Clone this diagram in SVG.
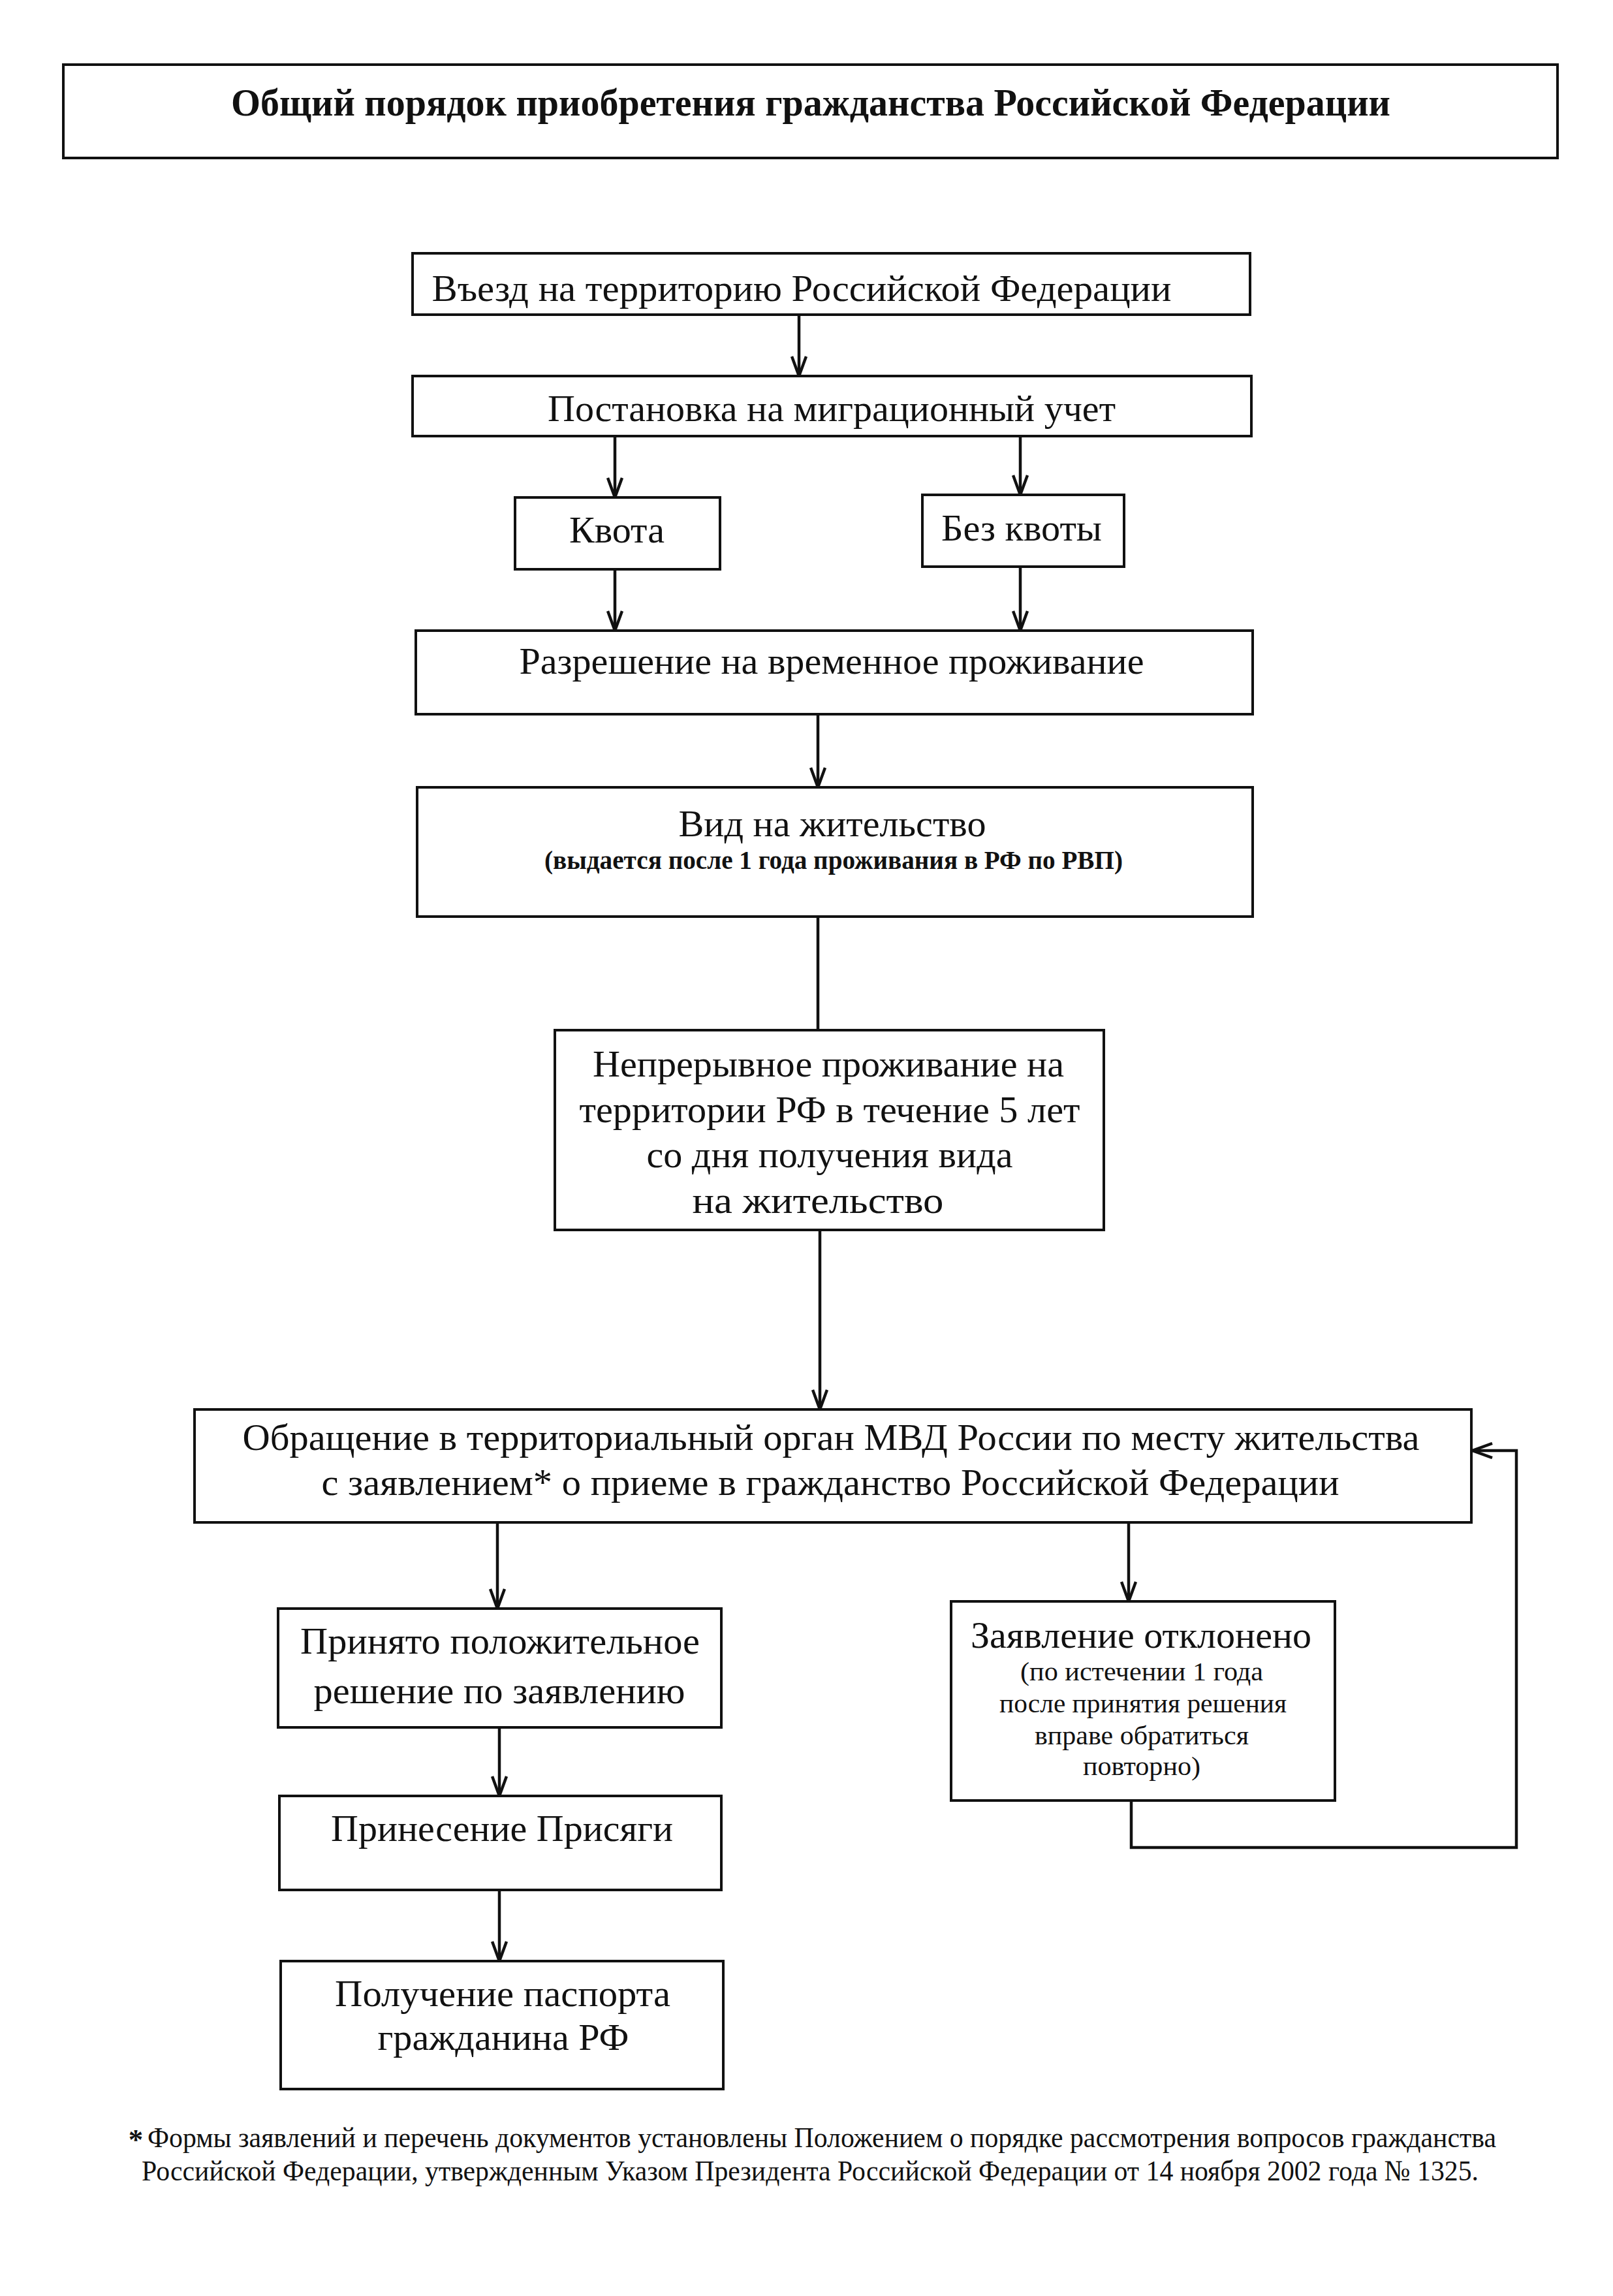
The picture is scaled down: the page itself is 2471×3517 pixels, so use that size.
<svg xmlns="http://www.w3.org/2000/svg" width="2471" height="3517" viewBox="0 0 2471 3517">
<style>
.box{fill:#fff;stroke:#111;stroke-width:4}
.t{font-family:"Liberation Serif","Times New Roman",serif;fill:#111;text-anchor:middle}
.m{font-size:58px}
.b{font-weight:bold}
.s{font-size:40px}
.f{font-size:45px}
.c{fill:none;stroke:#111;stroke-width:4.5}
</style>
<defs>
<marker id="ah" markerUnits="userSpaceOnUse" viewBox="0 0 34 26" refX="32" refY="13" markerWidth="34" markerHeight="26" orient="auto">
<path d="M2,2 L32,13 L2,24" fill="none" stroke="#111" stroke-width="4.5"/>
</marker>
</defs>
<rect width="2471" height="3517" fill="#fff"/>
<g id="title">
<rect class="box" x="97" y="99" width="2289" height="143"/>
<text class="t b" x="1242" y="177" font-size="60" textLength="1776" lengthAdjust="spacingAndGlyphs">Общий порядок приобретения гражданства Российской Федерации</text>
</g>
<g id="n1">
<rect class="box" x="632" y="388" width="1283" height="94"/>
<text class="t m" x="1228" y="461" textLength="1133" lengthAdjust="spacingAndGlyphs">Въезд на территорию Российской Федерации</text>
</g>
<g id="n2">
<rect class="box" x="632" y="576" width="1285" height="92"/>
<text class="t m" x="1274" y="645" textLength="870" lengthAdjust="spacingAndGlyphs">Постановка на миграционный учет</text>
</g>
<g id="n3">
<rect class="box" x="789" y="762" width="314" height="110"/>
<text class="t m" x="945" y="831" textLength="146" lengthAdjust="spacingAndGlyphs">Квота</text>
</g>
<g id="n4">
<rect class="box" x="1413" y="758" width="309" height="110"/>
<text class="t m" x="1565" y="828" textLength="246" lengthAdjust="spacingAndGlyphs">Без квоты</text>
</g>
<g id="n5">
<rect class="box" x="637" y="966" width="1282" height="128"/>
<text class="t m" x="1274" y="1032" textLength="957" lengthAdjust="spacingAndGlyphs">Разрешение на временное проживание</text>
</g>
<g id="n6">
<rect class="box" x="639" y="1206" width="1280" height="198"/>
<text class="t m" x="1275" y="1281" textLength="471" lengthAdjust="spacingAndGlyphs">Вид на жительство</text>
<text class="t s b" x="1277" y="1331" textLength="886" lengthAdjust="spacingAndGlyphs">(выдается после 1 года проживания в РФ по РВП)</text>
</g>
<g id="n7">
<rect class="box" x="850" y="1578" width="841" height="306"/>
<text class="t m" x="1269" y="1649" textLength="722" lengthAdjust="spacingAndGlyphs">Непрерывное проживание на</text>
<text class="t m" x="1271" y="1719" textLength="767" lengthAdjust="spacingAndGlyphs">территории РФ в течение 5 лет</text>
<text class="t m" x="1271" y="1788" textLength="561" lengthAdjust="spacingAndGlyphs">со дня получения вида</text>
<text class="t m" x="1253" y="1858" textLength="385" lengthAdjust="spacingAndGlyphs">на жительство</text>
</g>
<g id="n8">
<rect class="box" x="298" y="2159" width="1956" height="173"/>
<text class="t m" x="1273" y="2221" textLength="1803" lengthAdjust="spacingAndGlyphs">Обращение в территориальный орган МВД России по месту жительства</text>
<text class="t m" x="1272" y="2290" textLength="1559" lengthAdjust="spacingAndGlyphs">с заявлением* о приеме в гражданство Российской Федерации</text>
</g>
<g id="n9">
<rect class="box" x="426" y="2464" width="679" height="182"/>
<text class="t m" x="766" y="2533" textLength="612" lengthAdjust="spacingAndGlyphs">Принято положительное</text>
<text class="t m" x="765" y="2609" textLength="569" lengthAdjust="spacingAndGlyphs">решение по заявлению</text>
</g>
<g id="n10">
<rect class="box" x="1457" y="2453" width="588" height="305"/>
<text class="t m" x="1748" y="2524" textLength="522" lengthAdjust="spacingAndGlyphs">Заявление отклонено</text>
<text class="t s" x="1749" y="2574" textLength="372" lengthAdjust="spacingAndGlyphs">(по истечении 1 года</text>
<text class="t s" x="1751" y="2623" textLength="440" lengthAdjust="spacingAndGlyphs">после принятия решения</text>
<text class="t s" x="1749" y="2672" textLength="328" lengthAdjust="spacingAndGlyphs">вправе обратиться</text>
<text class="t s" x="1749" y="2719" textLength="180" lengthAdjust="spacingAndGlyphs">повторно)</text>
</g>
<g id="n11">
<rect class="box" x="428" y="2751" width="677" height="144"/>
<text class="t m" x="769" y="2820" textLength="524" lengthAdjust="spacingAndGlyphs">Принесение Присяги</text>
</g>
<g id="n12">
<rect class="box" x="430" y="3004" width="678" height="196"/>
<text class="t m" x="770" y="3073" textLength="514" lengthAdjust="spacingAndGlyphs">Получение паспорта</text>
<text class="t m" x="771" y="3140" textLength="385" lengthAdjust="spacingAndGlyphs">гражданина РФ</text>
</g>
<g id="footnote">
<text class="t f b" x="208" y="3292">*</text>
<text class="t f" x="1259" y="3289" textLength="2066" lengthAdjust="spacingAndGlyphs">Формы заявлений и перечень документов установлены Положением о порядке рассмотрения вопросов гражданства</text>
<text class="t f" x="1241" y="3340" textLength="2048" lengthAdjust="spacingAndGlyphs">Российской Федерации, утвержденным Указом Президента Российской Федерации от 14 ноября 2002 года № 1325.</text>
</g>
<g id="connectors">
<line class="c" x1="1224" y1="482" x2="1224" y2="576" marker-end="url(#ah)"/>
<line class="c" x1="942" y1="668" x2="942" y2="762" marker-end="url(#ah)"/>
<line class="c" x1="1563" y1="668" x2="1563" y2="758" marker-end="url(#ah)"/>
<line class="c" x1="942" y1="872" x2="942" y2="966" marker-end="url(#ah)"/>
<line class="c" x1="1563" y1="868" x2="1563" y2="966" marker-end="url(#ah)"/>
<line class="c" x1="1253" y1="1094" x2="1253" y2="1206" marker-end="url(#ah)"/>
<line class="c" x1="1253" y1="1404" x2="1253" y2="1578"/>
<line class="c" x1="1256" y1="1884" x2="1256" y2="2159" marker-end="url(#ah)"/>
<line class="c" x1="762" y1="2332" x2="762" y2="2464" marker-end="url(#ah)"/>
<line class="c" x1="1729" y1="2332" x2="1729" y2="2453" marker-end="url(#ah)"/>
<line class="c" x1="765" y1="2646" x2="765" y2="2751" marker-end="url(#ah)"/>
<line class="c" x1="765" y1="2895" x2="765" y2="3004" marker-end="url(#ah)"/>
<polyline class="c" points="1733,2758 1733,2830 2323,2830 2323,2222 2256,2222" marker-end="url(#ah)"/>
</g>
</svg>
